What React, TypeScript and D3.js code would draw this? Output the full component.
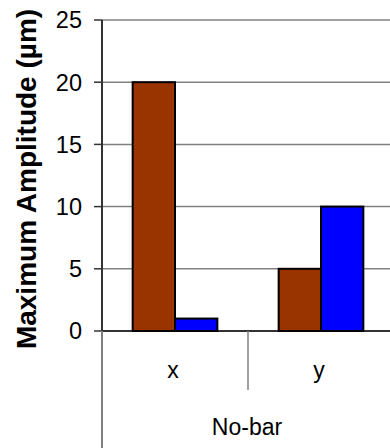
import React from "react";
import * as d3 from "d3";

const categories = ["x", "y"];
const seriesNames = ["A", "B"];
const seriesA = [20, 5];
const seriesB = [1, 10];
const yTicks = [0, 5, 10, 15, 20, 25];
const groupLabel = "No-bar";
const yLabel = "Maximum Amplitude (µm)";
const colors = ["#993300", "#0000FF"];

export default function App() {
  const W = 390, H = 448;
  const left = 102, right = 394, top = 20, bottom = 331;
  const y = d3.scaleLinear().domain([0, 25]).range([bottom, top]);
  const xCat = d3.scaleBand<string>().domain(categories).range([left, right]).padding(0);
  const bw = xCat.bandwidth();
  const inner = d3.scaleBand<string>().domain(seriesNames).range([bw * 0.21, bw * 0.79]).padding(0);
  const values = [seriesA, seriesB];
  const font = "'Liberation Sans', Arial, sans-serif";
  return (
    <svg width={W} height={H} style={{ position: "absolute", left: 0, top: 0 }}>
      <rect width={W} height={H} fill="#fff" />
      {yTicks.map((t) => (
        <g key={t}>
          <line x1={left} x2={W} y1={y(t)} y2={y(t)} stroke={t === 0 ? "#333" : "#808080"} strokeWidth={t === 0 ? 2 : 1.5} />
          <line x1={left - 8} x2={left} y1={y(t)} y2={y(t)} stroke="#333" strokeWidth={1.5} />
          <text x={82} y={y(t)} dy="0.36em" textAnchor="end" fontFamily={font} fontSize={23.5} fill="#000">{t}</text>
        </g>
      ))}
      {categories.map((c, i) => (
        <g key={c}>
          {seriesNames.map((s, j) => (
            <rect key={s}
              x={(xCat(c) as number) + (inner(s) as number)}
              y={y(values[j][i])}
              width={inner.bandwidth()}
              height={y(0) - y(values[j][i])}
              fill={colors[j]} stroke="#000" strokeWidth={2} />
          ))}
          <text x={(xCat(c) as number) + bw / 2 - 2} y={378} textAnchor="middle" fontFamily={font} fontSize={23}>{c}</text>
        </g>
      ))}
      <line x1={left} x2={left} y1={top} y2={bottom} stroke="#333" strokeWidth={2} />
      <line x1={left} x2={left} y1={bottom} y2={H} stroke="#808080" strokeWidth={2} />
      <line x1={(xCat("y") as number)} x2={(xCat("y") as number)} y1={bottom} y2={390} stroke="#808080" strokeWidth={1.5} />
      <text x={247} y={435} textAnchor="middle" fontFamily={font} fontSize={23}>{groupLabel}</text>
      <text transform={`translate(36,179) rotate(-90)`} textAnchor="middle" fontFamily={font} fontSize={28} fontWeight="bold">{yLabel}</text>
    </svg>
  );
}
